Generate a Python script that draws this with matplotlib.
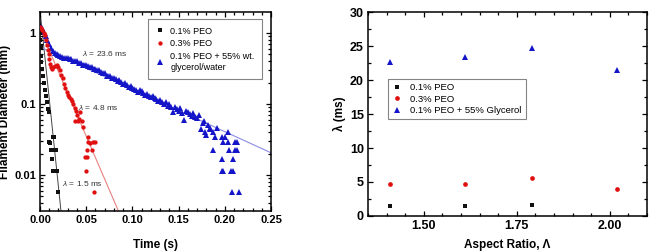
import matplotlib
matplotlib.use("Agg")
import matplotlib.pyplot as plt
from matplotlib.ticker import MultipleLocator, LogLocator, NullFormatter, FixedLocator
from matplotlib.lines import Line2D

plt.rcParams['font.family'] = ['Liberation Sans', 'DejaVu Sans']
plt.rcParams['mathtext.fontset'] = 'custom'
plt.rcParams['mathtext.it'] = 'Liberation Sans:italic'
plt.rcParams['mathtext.rm'] = 'Liberation Sans'

# ---------------- Left panel data ----------------
black_t = [0.0, 0.0, 0.0007, 0.0011, 0.0014, 0.0022, 0.0029, 0.0040, 0.0050, 0.0061,
           0.0076, 0.0087, 0.0097, 0.0101, 0.0108, 0.0116, 0.0133, 0.0137, 0.0144,
           0.0152, 0.0126, 0.0144, 0.0173, 0.0181, 0.0198]
black_d = [1.0, 0.79, 0.63, 0.48, 0.39, 0.31, 0.25, 0.20, 0.16, 0.13,
           0.106, 0.085, 0.077, 0.029, 0.028, 0.0228, 0.017, 0.0112, 0.034,
           0.034, 0.0228, 0.0228, 0.0228, 0.0112, 0.0058]

red_t = [0.0, 0.0011, 0.0025, 0.0040, 0.0054, 0.0065, 0.0076, 0.0083, 0.0094, 0.0101,
         0.0108, 0.0115, 0.0130, 0.0144, 0.0162, 0.0180, 0.0198, 0.0216, 0.0231, 0.0245,
         0.0260, 0.0274, 0.0289, 0.0303, 0.0317, 0.0332, 0.0346, 0.0360, 0.0375, 0.0379,
         0.0390, 0.0404, 0.0415, 0.0426, 0.0433, 0.0451, 0.0469, 0.0487, 0.0498, 0.0505,
         0.0512, 0.0523, 0.0523, 0.0541, 0.0560, 0.0570, 0.0595, 0.0588]
red_d = [1.24, 1.19, 1.11, 1.02, 0.93, 0.80, 0.67, 0.57, 0.51, 0.43,
         0.37, 0.33, 0.31, 0.33, 0.34, 0.35, 0.33, 0.30, 0.26, 0.23,
         0.19, 0.17, 0.147, 0.136, 0.125, 0.117, 0.112, 0.100, 0.088, 0.0585,
         0.079, 0.069, 0.0585, 0.062, 0.077, 0.0585, 0.047, 0.0176, 0.0112, 0.0176,
         0.0228, 0.034, 0.029, 0.028, 0.0228, 0.029, 0.029, 0.0057]

blue_t = [0.000, 0.002, 0.004, 0.006, 0.008, 0.010, 0.012, 0.014, 0.016, 0.018,
          0.020, 0.022, 0.024, 0.026, 0.028, 0.030, 0.032, 0.034, 0.036, 0.038,
          0.040, 0.042, 0.044, 0.046, 0.048, 0.050, 0.052, 0.054, 0.056, 0.058,
          0.060, 0.062, 0.064, 0.066, 0.068, 0.070, 0.072, 0.074, 0.076, 0.078,
          0.080, 0.082, 0.084, 0.086, 0.088, 0.090, 0.092, 0.094, 0.096, 0.098,
          0.100, 0.102, 0.104, 0.106, 0.108, 0.110, 0.112, 0.114, 0.116, 0.118,
          0.120, 0.122, 0.124, 0.126, 0.128, 0.130, 0.132, 0.134, 0.136, 0.138,
          0.140, 0.142, 0.144, 0.146, 0.148, 0.150, 0.152, 0.154, 0.156, 0.158,
          0.160, 0.162, 0.164, 0.166, 0.168, 0.170, 0.172, 0.174, 0.176, 0.178,
          0.1786, 0.1840, 0.1869, 0.1876, 0.1894, 0.1912, 0.1966, 0.1966, 0.1973, 0.1984,
          0.1984, 0.2002, 0.2038, 0.2038, 0.2049, 0.2064, 0.2075, 0.2085, 0.2092, 0.2110,
          0.2110, 0.2128, 0.2135, 0.2154, 0.1800, 0.1820, 0.1845]
blue_d = [1.30, 1.20, 1.05, 0.92, 0.80, 0.70, 0.62, 0.56, 0.52, 0.50,
          0.49, 0.48, 0.46, 0.45, 0.45, 0.44, 0.43, 0.43, 0.41, 0.41,
          0.40, 0.38, 0.38, 0.36, 0.35, 0.35, 0.34, 0.33, 0.33, 0.31,
          0.31, 0.30, 0.30, 0.28, 0.27, 0.27, 0.25, 0.25, 0.25, 0.235,
          0.23, 0.225, 0.21, 0.22, 0.205, 0.19, 0.195, 0.185, 0.175, 0.18,
          0.17, 0.165, 0.16, 0.15, 0.16, 0.155, 0.145, 0.135, 0.14, 0.13,
          0.125, 0.13, 0.12, 0.118, 0.11, 0.115, 0.105, 0.10, 0.105, 0.095,
          0.10, 0.09, 0.077, 0.092, 0.085, 0.08, 0.088, 0.075, 0.059, 0.08,
          0.078, 0.072, 0.068, 0.075, 0.066, 0.063, 0.07, 0.045, 0.054, 0.058,
          0.040, 0.046, 0.0226, 0.040, 0.034, 0.046, 0.034, 0.0115, 0.017, 0.029,
          0.0115, 0.034, 0.040, 0.029, 0.0226, 0.0115, 0.0058, 0.0115, 0.017, 0.029,
          0.0226, 0.029, 0.0226, 0.0058, 0.036, 0.050, 0.045]

# fit lines: endpoints (time, diameter)
black_fit_t = [0.0, 0.0228]
black_fit_d = [2.1, 0.003]
red_fit_t = [0.0, 0.0847]
red_fit_d = [1.15, 0.00313]
blue_fit_t = [0.0, 0.25]
blue_fit_d = [0.635, 0.0205]

fit_labels = ["$\\it{\\lambda}$ = 1.5 ms", "$\\it{\\lambda}$ = 4.8 ms", "$\\it{\\lambda}$ = 23.6 ms"]
left_legend = ["0.1% PEO", "0.3% PEO", "0.1% PEO + 55% wt.\nglycerol/water"]

# ---------------- Right panel data ----------------
aspect = [1.41, 1.61, 1.79, 2.02]
lam_01 = [1.5, 1.5, 1.6]
lam_03 = [4.7, 4.7, 5.6, 4.0]
lam_gly = [22.7, 23.4, 24.7, 21.5]
right_legend = ["0.1% PEO", "0.3% PEO", "0.1% PEO + 55% Glycerol"]

BLACK = '#111111'
RED = '#e01010'
BLUE = '#1414c8'

fig = plt.figure(figsize=(6.6, 2.52), dpi=100)
ax1 = fig.add_axes([0.0606, 0.163, 0.350, 0.789])
ax2 = fig.add_axes([0.5576, 0.143, 0.4227, 0.809])

def style(ax, size):
    for s in ax.spines.values():
        s.set_linewidth(1.1)
    ax.tick_params(which='both', direction='in', top=True, right=True, width=0.9)
    ax.tick_params(which='major', length=3.5, labelsize=size, pad=3)
    ax.tick_params(which='minor', length=2)
    for lab in ax.get_xticklabels() + ax.get_yticklabels():
        lab.set_fontweight('bold')

# Left panel
ax1.plot(black_fit_t, black_fit_d, color='#444444', lw=0.7, zorder=1)
ax1.plot(red_fit_t, red_fit_d, color='#e88080', lw=0.8, zorder=1)
ax1.plot(blue_fit_t, blue_fit_d, color='#8c8ce6', lw=0.8, zorder=1)
ax1.plot(black_t, black_d, 's', color=BLACK, ms=2.9, mew=0, zorder=3)
ax1.plot(red_t, red_d, 'o', color=RED, ms=3.1, mew=0, zorder=3)
ax1.plot(blue_t, blue_d, '^', color=BLUE, ms=4.2, mew=0, zorder=2)
ax1.set_yscale('log')
ax1.set_xlim(0, 0.25)
ax1.set_ylim(0.0031, 1.98)
ax1.xaxis.set_major_locator(MultipleLocator(0.05))
ax1.xaxis.set_minor_locator(MultipleLocator(0.01))
ax1.yaxis.set_major_locator(FixedLocator([0.01, 0.1, 1]))
ax1.yaxis.set_minor_locator(LogLocator(base=10, subs=range(2, 10)))
ax1.yaxis.set_minor_formatter(NullFormatter())
ax1.set_xticks([0, 0.05, 0.10, 0.15, 0.20, 0.25])
ax1.set_xticklabels(['0.00', '0.05', '0.10', '0.15', '0.20', '0.25'])
ax1.set_yticklabels(['0.01', '0.1', '1'])
style(ax1, 8)
ax1.set_xlabel('Time (s)', fontsize=8.5, fontweight='bold', labelpad=10)
ax1.set_ylabel('Filament Diameter (mm)', fontsize=8.5, fontweight='bold', labelpad=2)

ax1.text(0.0235, 0.0075, fit_labels[0], fontsize=6, color='#333333', va='center')
ax1.text(0.0410, 0.089, fit_labels[1], fontsize=6, color='#333333', va='center')
ax1.text(0.0451, 0.51, fit_labels[2], fontsize=6, color='#333333', va='center')

h1 = [Line2D([], [], ls='none', marker='s', color=BLACK, ms=2.9, mew=0),
      Line2D([], [], ls='none', marker='o', color=RED, ms=3.1, mew=0),
      Line2D([], [], ls='none', marker='^', color=BLUE, ms=4.0, mew=0)]
leg1 = ax1.legend(h1, left_legend, loc='upper left', bbox_to_anchor=(0.468, 0.966),
                  fontsize=6.5, frameon=True, fancybox=False, edgecolor='#666666',
                  handlelength=1.0, handletextpad=0.6, borderpad=0.85, labelspacing=0.42,
                  borderaxespad=0)
leg1.get_frame().set_linewidth(0.8)

# Right panel
ax2.plot(aspect[:3], lam_01, 's', color=BLACK, ms=3.0, mew=0)
ax2.plot(aspect, lam_03, 'o', color=RED, ms=3.4, mew=0)
ax2.plot(aspect, lam_gly, '^', color=BLUE, ms=4.0, mew=0)
ax2.set_xlim(1.35, 2.10)
ax2.set_ylim(0, 30)
ax2.xaxis.set_major_locator(MultipleLocator(0.25))
ax2.xaxis.set_minor_locator(MultipleLocator(0.05))
ax2.yaxis.set_major_locator(MultipleLocator(5))
ax2.yaxis.set_minor_locator(MultipleLocator(2.5))
ax2.set_xticks([1.50, 1.75, 2.00])
ax2.set_xticklabels(['1.50', '1.75', '2.00'])
ax2.set_yticks([0, 5, 10, 15, 20, 25, 30])
style(ax2, 9)
ax2.set_xlabel('Aspect Ratio, Λ', fontsize=8.5, fontweight='bold', labelpad=5)
ax2.set_ylabel('λ (ms)', fontsize=8.5, fontweight='bold', labelpad=3)

h2 = [Line2D([], [], ls='none', marker='s', color=BLACK, ms=3.0, mew=0),
      Line2D([], [], ls='none', marker='o', color=RED, ms=3.4, mew=0),
      Line2D([], [], ls='none', marker='^', color=BLUE, ms=4.0, mew=0)]
leg2 = ax2.legend(h2, right_legend, loc='upper left', bbox_to_anchor=(0.072, 0.672),
                  fontsize=6.8, frameon=True, fancybox=False, edgecolor='#666666',
                  handlelength=1.0, handletextpad=0.9, borderpad=0.45, labelspacing=0.25,
                  borderaxespad=0)
leg2.get_frame().set_linewidth(0.8)

fig.savefig('out.png', dpi=100)
